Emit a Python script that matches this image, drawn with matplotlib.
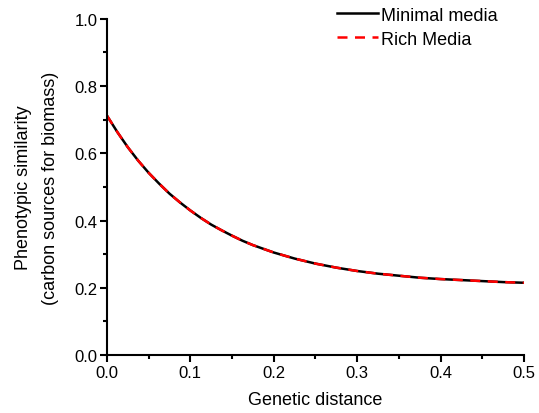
import matplotlib
matplotlib.use('Agg')
import matplotlib.pyplot as plt
from matplotlib.ticker import MultipleLocator

# values
genetic_distance = [0.0, 0.0125, 0.025, 0.0375, 0.05, 0.0625, 0.075, 0.0875,
                    0.1, 0.1125, 0.125, 0.1375, 0.15, 0.1625, 0.175, 0.1875,
                    0.2, 0.225, 0.25, 0.275, 0.3, 0.325, 0.35, 0.375, 0.4,
                    0.425, 0.45, 0.475, 0.5]
minimal_media = [0.712, 0.663, 0.618, 0.578, 0.542, 0.510, 0.480, 0.454,
                 0.430, 0.408, 0.388, 0.371, 0.355, 0.340, 0.327, 0.316,
                 0.305, 0.287, 0.272, 0.260, 0.250, 0.242, 0.236, 0.230,
                 0.226, 0.223, 0.220, 0.217, 0.215]
rich_media = [0.712, 0.663, 0.618, 0.578, 0.542, 0.510, 0.480, 0.454,
              0.430, 0.408, 0.388, 0.371, 0.355, 0.340, 0.327, 0.316,
              0.305, 0.287, 0.272, 0.260, 0.250, 0.242, 0.236, 0.230,
              0.226, 0.223, 0.220, 0.217, 0.215]

plt.rcParams['font.family'] = ['Liberation Sans', 'DejaVu Sans']

fig = plt.figure(figsize=(5.39, 4.14), dpi=100)
ax = fig.add_axes([0.1985, 0.140, 0.7735, 0.812])

ax.plot(genetic_distance, minimal_media, color='black', lw=1.8,
        label='Minimal media')
ax.plot(genetic_distance, rich_media, color='red', lw=1.8,
        dashes=(4, 3), label='Rich Media')

ax.set_xlim(0, 0.5)
ax.set_ylim(0, 1.0)
ax.xaxis.set_major_locator(MultipleLocator(0.1))
ax.xaxis.set_minor_locator(MultipleLocator(0.05))
ax.yaxis.set_major_locator(MultipleLocator(0.2))
ax.yaxis.set_minor_locator(MultipleLocator(0.1))

for side in ['top', 'right']:
    ax.spines[side].set_visible(False)
for side in ['left', 'bottom']:
    ax.spines[side].set_linewidth(1.5)

ax.tick_params(which='major', direction='out', length=5, width=1.5,
               labelsize=12, pad=2)
ax.tick_params(which='minor', direction='out', length=3, width=1.5)

ax.set_xlabel('Genetic distance', fontsize=13, labelpad=8)
ax.set_ylabel('Phenotypic similarity\n(carbon sources for biomass)',
              fontsize=13, labelpad=11, linespacing=1.75)

ax.legend(loc='upper right', bbox_to_anchor=(0.976, 1.085), frameon=False,
          handlelength=2.3, handletextpad=0.15, labelspacing=0.4,
          fontsize=13)

fig.savefig('out.png', dpi=100)
